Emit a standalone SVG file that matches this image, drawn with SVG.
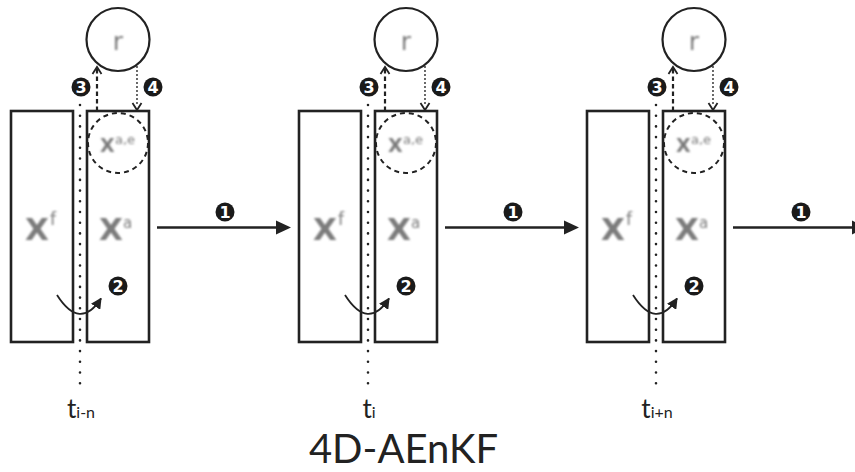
<svg xmlns="http://www.w3.org/2000/svg" width="855" height="472" viewBox="0 0 855 472">
<style>
.box{fill:#fff;stroke:#222;stroke-width:2.6}
.rc{fill:#fff;stroke:#222;stroke-width:2.2}
.dc{fill:none;stroke:#222;stroke-width:2;stroke-dasharray:5 4}
.dots{fill:none;stroke:#222;stroke-width:2.6;stroke-linecap:round;stroke-dasharray:0 10.7}
.dash{fill:none;stroke:#222;stroke-width:2.2;stroke-dasharray:4.5 3}
.dot2{fill:none;stroke:#222;stroke-width:1.8;stroke-linecap:round;stroke-dasharray:0 4}
.chev{fill:none;stroke:#222;stroke-width:1.8}
.main{fill:none;stroke:#222;stroke-width:2.6}
.gx{font-family:"DejaVu Sans","Liberation Sans",sans-serif;fill:#7c7c7c;font-weight:bold;filter:url(#blur)}
.gr{font-family:"DejaVu Sans","Liberation Sans",sans-serif;fill:#7c7c7c;filter:url(#blur)}
.bd{fill:#1a1a1a}
.bn{font-family:"DejaVu Sans","Liberation Sans",sans-serif;font-weight:bold;font-size:16px;fill:#fff;text-anchor:middle}
.t{font-family:Lato,"Liberation Sans",sans-serif;fill:#222;text-anchor:middle}
</style>
<defs>
<filter id="blur" x="-30%" y="-30%" width="160%" height="160%"><feGaussianBlur stdDeviation="1.1"/></filter>
<marker id="tri" viewBox="0 0 10 10" refX="9" refY="5" markerWidth="11" markerHeight="11" markerUnits="userSpaceOnUse" orient="auto"><path d="M0,0 L10,5 L0,10 z" fill="#222"/></marker>
<g id="panel">
<rect class="box" x="11" y="111" width="62" height="231"/>
<rect class="box" x="87" y="111" width="62" height="231"/>
<circle class="rc" cx="118" cy="39.5" r="31.5"/>
<circle class="dc" cx="118" cy="143" r="30"/>
<text class="gr" x="118" y="50" font-size="25" text-anchor="middle">r</text>
<text class="gx" x="100" y="152" font-size="19">X</text>
<text class="gr" x="115" y="144" font-size="13">a,e</text>
<text class="gx" x="25" y="240" font-size="31">X</text>
<text class="gr" x="50" y="225" font-size="17">f</text>
<text class="gx" x="99" y="240" font-size="31">X</text>
<text class="gr" x="123" y="228" font-size="15">a</text>
</g>
<g id="conn">
<line class="dots" x1="80" y1="105" x2="80" y2="384"/>
<line class="dash" x1="97" y1="111" x2="97" y2="69"/>
<path class="chev" d="M92.5,74 L97,67 L101.5,74"/>
<line class="dot2" x1="137" y1="67" x2="137" y2="107"/>
<path class="chev" d="M132.5,103 L137,110 L141.5,103"/>
<path d="M57,295 Q80,331 101,298.5" fill="none" stroke="#222" stroke-width="1.8" marker-end="url(#tri)"/>
<line class="main" x1="157" y1="227.5" x2="283" y2="227.5"/>
<path d="M276,220.5 L291,227.5 L276,234.5 z" fill="#222"/>
<circle class="bd" cx="81" cy="87" r="9.5"/><text class="bn" x="81" y="92.8">3</text>
<circle class="bd" cx="153" cy="87" r="9.5"/><text class="bn" x="153" y="92.8">4</text>
<circle class="bd" cx="118" cy="286" r="9.5"/><text class="bn" x="118" y="291.8">2</text>
<circle class="bd" cx="225" cy="212" r="9.5"/><text class="bn" x="225" y="217.8">1</text>
</g>
</defs>
<rect width="855" height="472" fill="#fff"/>
<g id="node-ti-n"><use href="#panel"/></g>
<g id="node-ti"><use href="#panel" x="288"/></g>
<g id="node-ti+n"><use href="#panel" x="576"/></g>
<g id="connectors">
<use href="#conn"/>
<use href="#conn" x="288"/>
<use href="#conn" x="576"/>
</g>
<g id="labels">
<text class="t" x="81" y="418"><tspan font-size="26">t</tspan><tspan font-size="16">i-n</tspan></text>
<text class="t" x="369" y="418"><tspan font-size="26">t</tspan><tspan font-size="16">i</tspan></text>
<text class="t" x="657" y="418"><tspan font-size="26">t</tspan><tspan font-size="16">i+n</tspan></text>
<text class="t" x="403.5" y="463" font-size="40">4D-AEnKF</text>
</g>
</svg>
